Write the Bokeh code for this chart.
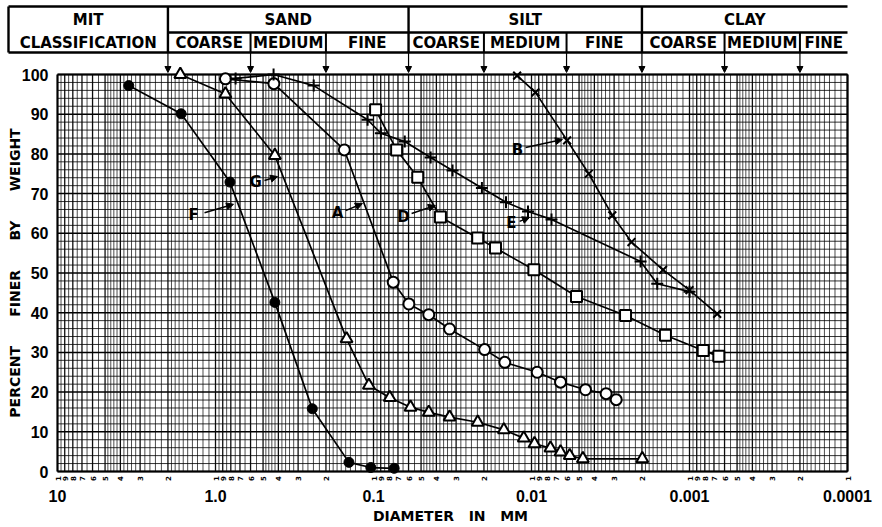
import math
from bokeh.plotting import figure
from bokeh.models import Range1d, Arrow, NormalHead, ColumnDataSource
from bokeh.embed import file_html
from bokeh.resources import INLINE
from bokeh.core.properties import value

# ---------------- data (diameter in mm, percent finer by weight) ----------------
F_d = [3.54, 1.65, 0.81, 0.421, 0.244, 0.143, 0.104, 0.074]
F_p = [97.2, 90.1, 72.9, 42.6, 15.8, 2.3, 1.0, 0.8]

G_d = [1.67, 0.865, 0.421, 0.148, 0.107, 0.0789, 0.0583, 0.0447, 0.033, 0.0219,
       0.01496, 0.0112, 0.00957, 0.00759, 0.00655, 0.00573, 0.00473, 0.00199]
G_p = [100, 95.1, 79.6, 33.4, 21.7, 18.6, 16.2, 14.9, 13.7, 12.4,
       10.5, 8.4, 7.0, 5.9, 4.9, 4.0, 3.2, 3.2]

A_d = [0.865, 0.427, 0.153, 0.075, 0.0597, 0.0447, 0.033, 0.0198, 0.01476,
       0.0092, 0.00655, 0.00455, 0.00337, 0.00291]
A_p = [98.9, 97.7, 81.0, 47.7, 42.2, 39.5, 35.9, 30.7, 27.5, 25.0, 22.5, 20.6, 19.6, 18.1]

D_d = [0.097, 0.0714, 0.0525, 0.0377, 0.0219, 0.0169, 0.00966, 0.00519,
       0.00254, 0.00142, 0.000819, 0.000652]
D_p = [91.1, 81.0, 74.1, 64.1, 58.8, 56.3, 50.8, 44.1, 39.3, 34.3, 30.5, 29.0]

E_d = [0.746, 0.429, 0.239, 0.109, 0.0898, 0.0634, 0.0435, 0.0316, 0.0206,
       0.0145, 0.01052, 0.00747, 0.00204, 0.0016, 0.001]
E_p = [99.0, 100, 97.2, 88.6, 85.2, 83.1, 79.1, 75.8, 71.4, 67.8, 65.5, 63.5,
       52.9, 47.3, 45.3]

B_d = [0.01233, 0.00944, 0.00595, 0.00434, 0.00308, 0.00233, 0.00147, 0.001, 0.000668]
B_p = [99.7, 95.5, 83.4, 75.0, 64.5, 57.8, 50.8, 45.7, 39.7]

# curve name labels and their arrows
lab_names = ["F", "G", "A", "D", "E", "B"]
lab_d = [1.378, 0.558, 0.169, 0.0646, 0.0134, 0.01227]
lab_p = [64.7, 73.0, 65.0, 64.2, 62.5, 81.1]
arr_d0 = [1.174, 0.490, 0.150, 0.0574, 0.0119, 0.0109]
arr_p0 = [65.2, 73.3, 65.7, 65.0, 63.0, 81.6]
arr_d1 = [0.769, 0.405, 0.1175, 0.0406, 0.0103, 0.00637]
arr_p1 = [67.3, 74.3, 67.5, 67.0, 64.0, 83.6]

# MIT classification boundaries (mm)
class_main = ["SAND", "SILT", "CLAY"]
class_main_bounds = [2, 0.06, 0.002, 0.0001]
class_sub = ["COARSE", "MEDIUM", "FINE", "COARSE", "MEDIUM", "FINE", "COARSE", "MEDIUM", "FINE"]
class_sub_bounds = [2, 0.6, 0.2, 0.06, 0.02, 0.006, 0.002, 0.0006, 0.0002, 0.0001]

# axes
x_ticks = [10, 1, 0.1, 0.01, 0.001, 0.0001]
x_tick_labels = ["10", "1.0", "0.1", "0.01", "0.001", "0.0001"]
y_ticks = [0, 10, 20, 30, 40, 50, 60, 70, 80, 90, 100]
x_title = "DIAMETER\u00a0\u00a0\u00a0IN\u00a0\u00a0\u00a0MM"
y_title = ("PERCENT\u00a0\u00a0\u00a0\u00a0\u00a0\u00a0FINER\u00a0\u00a0\u00a0\u00a0\u00a0\u00a0"
           "BY\u00a0\u00a0\u00a0\u00a0\u00a0\u00a0WEIGHT")

# ---------------- layout (page pixels; the page has no margin) ----------------
W, H = 882, 527
PX_X0 = 57.0               # page x of d = 10
DEC = 158.0                # pixels per decade
PX_Y0 = 471.0              # page y of 0 %
PCT = 3.97                 # pixels per percent


def d_of(px):
    return 10 ** (1 - (px - PX_X0) / DEC)


def p_of(py):
    return (PX_Y0 - py) / PCT


BOLD = value("DejaVu Sans")
NUMF = value("Liberation Sans")

p = figure(width=W, height=H, x_axis_type="log",
           x_range=Range1d(d_of(0), d_of(W)), y_range=Range1d(p_of(H), p_of(0)),
           x_axis_location=None, y_axis_location=None,
           toolbar_location=None, output_backend="svg",
           min_border=0, outline_line_color=None)
for g in p.grid:
    g.visible = False

X_LO, X_HI = x_ticks[0], x_ticks[-1]
Y_LO, Y_HI = y_ticks[0], y_ticks[-1]

# ---------------- grid ----------------
major_m = [1, 2, 3, 4, 5, 6, 7, 8, 9]
minor_m = ([1 + 0.1 * i for i in range(1, 10)] + [2 + 0.2 * i for i in range(1, 15)]
           + [5 + 0.5 * i for i in range(1, 10)])
minor_m = [m for m in minor_m if abs(m - round(m)) > 1e-6]
gx_major = [m * 10 ** k for k in range(-4, 1) for m in major_m]
gx_minor = [m * 10 ** k for k in range(-4, 1) for m in minor_m]
gy_minor = [v for v in range(Y_LO, Y_HI + 1, 2) if v % 10]
gy_major = y_ticks

p.segment(x0=gx_minor, y0=[Y_LO] * len(gx_minor), x1=gx_minor, y1=[Y_HI] * len(gx_minor),
          line_color="black", line_alpha=0.7, line_width=1)
p.segment(x0=gx_major, y0=[Y_LO] * len(gx_major), x1=gx_major, y1=[Y_HI] * len(gx_major),
          line_color="black", line_alpha=0.95, line_width=1.3)
p.segment(x0=[X_LO] * len(gy_minor), y0=gy_minor, x1=[X_HI] * len(gy_minor), y1=gy_minor,
          line_color="black", line_alpha=0.8, line_width=1)
p.segment(x0=[X_LO] * len(gy_major), y0=gy_major, x1=[X_HI] * len(gy_major), y1=gy_major,
          line_color="black", line_alpha=1.0, line_width=1.5)
# frame
p.segment(x0=[X_LO, X_LO, X_LO, X_HI], y0=[Y_LO, Y_HI, Y_LO, Y_LO],
          x1=[X_HI, X_HI, X_LO, X_HI], y1=[Y_LO, Y_HI, Y_HI, Y_HI],
          line_color="black", line_width=2.2)

# ---------------- axis labels ----------------
p.text(x=[d_of(48)] * len(y_ticks), y=y_ticks, text=[str(v) for v in y_ticks],
       text_font=NUMF, text_font_style="bold", text_font_size="16px",
       text_align="right", text_baseline="middle", text_color="black")
p.text(x=x_ticks, y=[p_of(495)] * len(x_ticks), text=x_tick_labels,
       text_font=NUMF, text_font_style="bold", text_font_size="16px",
       text_align="center", text_baseline="middle", text_color="black")
digit_ticks = [m * 10 ** k for k in range(-4, 1) for m in major_m] + [10]
digit_labels = [str(int(round(t / 10 ** math.floor(math.log10(t) + 1e-9)))) for t in digit_ticks]
p.text(x=digit_ticks, y=[p_of(478)] * len(digit_ticks), text=digit_labels, angle=math.pi / 2,
       text_font=BOLD, text_font_style="bold", text_font_size="7px",
       text_align="center", text_baseline="middle", text_color="black")
p.text(x=[d_of(450)], y=[p_of(515)], text=[x_title], text_font=BOLD, text_font_style="bold",
       text_font_size="14px", text_align="center", text_baseline="middle", text_color="black")
p.text(x=[d_of(14)], y=[(Y_LO + Y_HI) / 2], text=[y_title], angle=math.pi / 2,
       text_font=BOLD, text_font_style="bold", text_font_size="14px",
       text_align="center", text_baseline="middle", text_color="black")

# ---------------- MIT classification header ----------------
left_edge = d_of(8)
right_edge = class_main_bounds[-1]
Y_TOP, Y_MID, Y_BOT, Y_ARR = p_of(6), p_of(32), p_of(52), p_of(72)

hx0 = [left_edge, class_main_bounds[0], left_edge]
hx1 = [right_edge, right_edge, right_edge]
hy = [Y_TOP, Y_MID, Y_BOT]
p.segment(x0=hx0, y0=hy, x1=hx1, y1=hy, line_color="black", line_width=2.4)
vx = [left_edge] + class_main_bounds[:-1]
p.segment(x0=vx, y0=[Y_TOP] * len(vx), x1=vx, y1=[Y_BOT] * len(vx),
          line_color="black", line_width=2.4)
sub_inner = [b for b in class_sub_bounds[1:-1] if b not in class_main_bounds]
p.segment(x0=sub_inner, y0=[Y_MID] * len(sub_inner), x1=sub_inner,
          y1=[Y_BOT] * len(sub_inner), line_color="black", line_width=2)

main_cx = [math.sqrt(a * b) for a, b in zip(class_main_bounds[:-1], class_main_bounds[1:])]
sub_cx = [math.sqrt(a * b) for a, b in zip(class_sub_bounds[:-1], class_sub_bounds[1:])]
mit_cx = math.sqrt(left_edge * class_main_bounds[0])
row1, row2 = p_of(19.5), p_of(42.5)

txt = dict(text_font=BOLD, text_font_style="bold", text_font_size="15px",
           text_align="center", text_baseline="middle", text_color="black")
p.text(x=[mit_cx, mit_cx], y=[row1, row2], text=["MIT", "CLASSIFICATION"], **txt)
p.text(x=main_cx, y=[row1] * len(main_cx), text=class_main, **txt)
p.text(x=sub_cx, y=[row2] * len(sub_cx), text=class_sub, **txt)

arr_b = class_sub_bounds[:-1]
asrc = ColumnDataSource(dict(x0=arr_b, y0=[Y_BOT] * len(arr_b), x1=arr_b, y1=[Y_ARR] * len(arr_b)))
p.add_layout(Arrow(source=asrc, x_start="x0", y_start="y0", x_end="x1", y_end="y1",
                   line_width=1.2, line_color="black",
                   end=NormalHead(size=6, fill_color="black", line_color="black")))

# ---------------- curves ----------------
LW = 1.7
for xs, ys in [(F_d, F_p), (G_d, G_p), (A_d, A_p), (D_d, D_p), (E_d, E_p), (B_d, B_p)]:
    p.line(xs, ys, line_color="black", line_width=LW)

p.scatter(F_d, F_p, marker="circle", size=10, fill_color="black", line_color="black")
p.scatter(G_d, G_p, marker="triangle", size=12, fill_color="white", line_color="black", line_width=2)
p.scatter(A_d, A_p, marker="circle", size=11, fill_color="white", line_color="black", line_width=2)
p.scatter(D_d, D_p, marker="square", size=11, fill_color="white", line_color="black", line_width=2)
p.scatter(E_d, E_p, marker="cross", size=12, line_color="black", line_width=2)
p.scatter(B_d, B_p, marker="x", size=11, line_color="black", line_width=2)

p.text(x=lab_d, y=lab_p, text=lab_names, text_font=BOLD, text_font_style="bold",
       text_font_size="15px", text_align="center", text_baseline="middle", text_color="black")
lsrc = ColumnDataSource(dict(x0=arr_d0, y0=arr_p0, x1=arr_d1, y1=arr_p1))
p.add_layout(Arrow(source=lsrc, x_start="x0", y_start="y0", x_end="x1", y_end="y1",
                   line_width=1.5, line_color="black",
                   end=NormalHead(size=7, fill_color="black", line_color="black")))

open("out.html", "w").write(file_html(p, INLINE))
